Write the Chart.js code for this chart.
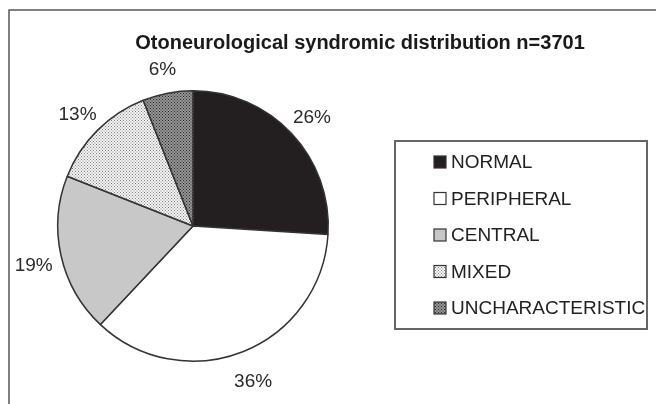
<!DOCTYPE html>
<html>
<head>
<meta charset="utf-8">
<script src="https://cdn.jsdelivr.net/npm/chart.js@4.4.1/dist/chart.umd.min.js"></script>
<style>
html,body{margin:0;padding:0;background:#fff;}
#wrap{position:relative;width:656px;height:404px;}
</style>
</head>
<body>
<div id="wrap"><canvas id="c" width="656" height="404"></canvas></div>
<script>
const title = "Otoneurological syndromic distribution n=3701";
const categories = ["NORMAL", "PERIPHERAL", "CENTRAL", "MIXED", "UNCHARACTERISTIC"];
const values = [26, 36, 19, 13, 6];
const valueLabels = ["26%", "36%", "19%", "13%", "6%"];

function makePattern(bg, dot, size) {
  const p = document.createElement('canvas');
  p.width = size; p.height = size;
  const g = p.getContext('2d');
  g.fillStyle = bg; g.fillRect(0, 0, size, size);
  g.fillStyle = dot;
  g.fillRect(0, 0, 1, 1);
  g.fillRect(size/2, size/2, 1, 1);
  return document.getElementById('c').getContext('2d').createPattern(p, 'repeat');
}
const mixedFill = makePattern('#f5f5f5', '#7f7f7f', 3);
const uncharFill = makePattern('#979797', '#262626', 3);
const fills = ['#231f20', '#ffffff', '#c8c8c8', mixedFill, uncharFill];

const FONT = '"Liberation Sans", Arial, sans-serif';

const decor = {
  id: 'decor',
  beforeDraw(chart) {
    const ctx = chart.ctx;
    ctx.save();
    ctx.fillStyle = '#fff';
    ctx.fillRect(0, 0, chart.width, chart.height);
    // frame (left + top)
    ctx.strokeStyle = '#555';
    ctx.lineWidth = 1.5;
    ctx.beginPath();
    ctx.moveTo(9, chart.height);
    ctx.lineTo(9, 10);
    ctx.lineTo(chart.width, 10);
    ctx.stroke();
    // title
    ctx.fillStyle = '#1a1a1a';
    ctx.font = 'bold 20px ' + FONT;
    ctx.textAlign = 'center';
    ctx.textBaseline = 'middle';
    ctx.fillText(title, 360, 43);
    ctx.restore();
  },
  afterDraw(chart) {
    const ctx = chart.ctx;
    const meta = chart.getDatasetMeta(0);
    ctx.save();
    // percentage labels
    ctx.fillStyle = '#2a2a2a';
    ctx.font = '19px ' + FONT;
    ctx.textAlign = 'center';
    ctx.textBaseline = 'middle';
    meta.data.forEach((arc, i) => {
      const p = arc.getProps(['x', 'y', 'startAngle', 'endAngle', 'outerRadius'], true);
      const mid = (p.startAngle + p.endAngle) / 2;
      const d = p.outerRadius + 28;
      ctx.fillText(valueLabels[i], p.x + Math.cos(mid) * d, p.y + Math.sin(mid) * d + 4);
    });
    // legend box
    const bx = 395, by = 141, bw = 252, bh = 188;
    ctx.strokeStyle = '#666';
    ctx.lineWidth = 2;
    ctx.strokeRect(bx, by, bw, bh);
    ctx.textAlign = 'left';
    ctx.font = '19px ' + FONT;
    categories.forEach((cat, i) => {
      const cy = 162 + i * 36.5;
      ctx.fillStyle = fills[i];
      ctx.fillRect(434, cy - 6, 12, 12);
      ctx.strokeStyle = '#333';
      ctx.lineWidth = 1.2;
      ctx.strokeRect(434, cy - 6, 12, 12);
      ctx.fillStyle = '#222';
      ctx.fillText(cat, 451, cy + 1);
    });
    ctx.restore();
  }
};

new Chart(document.getElementById('c'), {
  type: 'pie',
  data: {
    labels: categories,
    datasets: [{
      data: values,
      backgroundColor: fills,
      borderColor: '#333',
      borderWidth: 1.5,
      hoverOffset: 0
    }]
  },
  options: {
    responsive: false,
    animation: false,
    events: [],
    layout: { padding: { left: 57, right: 327, top: 90, bottom: 42 } },
    plugins: {
      legend: { display: false },
      title: { display: false },
      tooltip: { enabled: false }
    }
  },
  plugins: [decor]
});
</script>
</body>
</html>
